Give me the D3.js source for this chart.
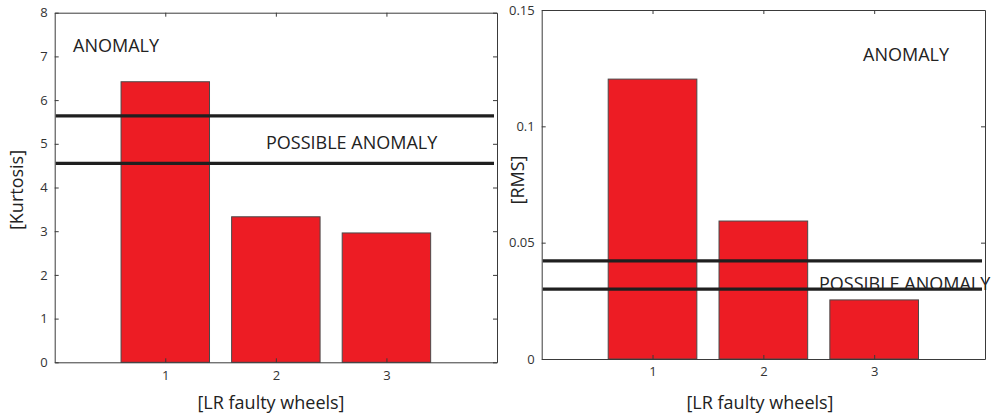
<!DOCTYPE html>
<html>
<head>
<meta charset="utf-8">
<script src="https://cdn.jsdelivr.net/npm/d3@7"></script>
<style>
  html, body { margin: 0; padding: 0; background: #fff; }
  svg { display: block; font-family: "Open Sans", "DejaVu Sans", sans-serif; }
</style>
</head>
<body>
<svg id="chart" width="993" height="416"></svg>
<script>
// Wheel indices on the x axis (shared by both panels)
const wheels = [1, 2, 3];

// Kurtosis panel
const kurtosisValues = [6.42, 3.33, 2.96];
const kurtosisTicks = [0, 1, 2, 3, 4, 5, 6, 7, 8];
const kurtosisThresholds = [5.64, 4.55];

// RMS panel
const rmsValues = [0.1203, 0.0593, 0.0254];
const rmsTicks = [0, 0.05, 0.1, 0.15];
const rmsTickLabels = ["0", "0.05", "0.1", "0.15"];
const rmsThresholds = [0.0422, 0.0300];

const svg = d3.select("#chart");

function drawPanel(cfg) {
  const x = d3.scaleLinear().domain([0, 4]).range([cfg.left, cfg.right]);
  const y = d3.scaleLinear().domain(cfg.yDomain).range([cfg.bottom, cfg.top]);
  const g = svg.append("g");
  const step = x(1) - x(0);
  const bw = step * 0.8;

  // bars
  g.selectAll("rect.bar").data(cfg.values).enter().append("rect")
    .attr("class", "bar")
    .attr("x", (d, i) => x(wheels[i]) - bw / 2)
    .attr("y", d => y(d))
    .attr("width", bw)
    .attr("height", d => y(0) - y(d))
    .attr("fill", "#ed1c24")
    .attr("stroke", "#4a4a4a")
    .attr("stroke-width", 1);

  // threshold lines
  g.selectAll("line.thr").data(cfg.thresholds).enter().append("line")
    .attr("class", "thr")
    .attr("x1", x(0) + 1).attr("x2", x(4) - 3)
    .attr("y1", d => y(d)).attr("y2", d => y(d))
    .attr("stroke", "#1f1f1f")
    .attr("stroke-width", 3.2);

  // axes with inward ticks on all four sides
  const tickStyle = sel => {
    sel.select(".domain").attr("stroke", "#3a3a3a");
    sel.selectAll(".tick line").attr("stroke", "#3a3a3a");
    sel.selectAll("text").attr("fill", "#333").style("font-size", "13px")
      .style("font-family", "'Open Sans', sans-serif");
  };

  const yLeft = d3.axisLeft(y).tickValues(cfg.ticks)
    .tickFormat((d, i) => cfg.tickLabels[i]).tickSizeInner(-4).tickSizeOuter(0).tickPadding(7);
  g.append("g").attr("transform", `translate(${cfg.left},0)`).call(yLeft).call(tickStyle);

  const yRight = d3.axisRight(y).tickValues(cfg.ticks).tickFormat("")
    .tickSizeInner(-4).tickSizeOuter(0);
  g.append("g").attr("transform", `translate(${cfg.right},0)`).call(yRight).call(tickStyle);

  const xBottom = d3.axisBottom(x).tickValues(wheels).tickFormat(d3.format("d"))
    .tickSizeInner(-4).tickSizeOuter(0).tickPadding(8);
  g.append("g").attr("transform", `translate(0,${cfg.bottom})`).call(xBottom).call(tickStyle);

  const xTop = d3.axisTop(x).tickValues(wheels).tickFormat("")
    .tickSizeInner(-4).tickSizeOuter(0);
  g.append("g").attr("transform", `translate(0,${cfg.top})`).call(xTop).call(tickStyle);

  // axis titles
  g.append("text")
    .attr("x", cfg.xLabelX).attr("y", 409)
    .attr("text-anchor", "middle")
    .attr("fill", "#222").style("font-size", "18px")
    .text("[LR faulty wheels]");

  g.append("text")
    .attr("transform", `translate(${cfg.yLabelX},${cfg.yLabelY}) rotate(-90)`)
    .attr("text-anchor", "middle")
    .attr("fill", "#222").style("font-size", "18px")
    .text(cfg.yTitle);

  // zone annotations
  cfg.notes.forEach(n => {
    g.append("text")
      .attr("x", n.x).attr("y", n.y)
      .attr("fill", "#222").style("font-size", "18px")
      .text(n.text);
  });
}

drawPanel({
  left: 54.7, right: 497, top: 12.7, bottom: 362.3,
  yDomain: [0, 8],
  values: kurtosisValues,
  ticks: kurtosisTicks,
  tickLabels: kurtosisTicks.map(String),
  thresholds: kurtosisThresholds,
  yTitle: "[Kurtosis]",
  yLabelX: 23, yLabelY: 190,
  xLabelX: 271,
  notes: [
    { text: "ANOMALY", x: 73, y: 52.3 },
    { text: "POSSIBLE ANOMALY", x: 266, y: 149 }
  ]
});

drawPanel({
  left: 541.7, right: 985, top: 10, bottom: 359,
  yDomain: [0, 0.15],
  values: rmsValues,
  ticks: rmsTicks,
  tickLabels: rmsTickLabels,
  thresholds: rmsThresholds,
  yTitle: "[RMS]",
  yLabelX: 524, yLabelY: 180,
  xLabelX: 760,
  notes: [
    { text: "ANOMALY", x: 863, y: 61 },
    { text: "POSSIBLE ANOMALY", x: 819, y: 289.5 }
  ]
});
</script>
</body>
</html>
